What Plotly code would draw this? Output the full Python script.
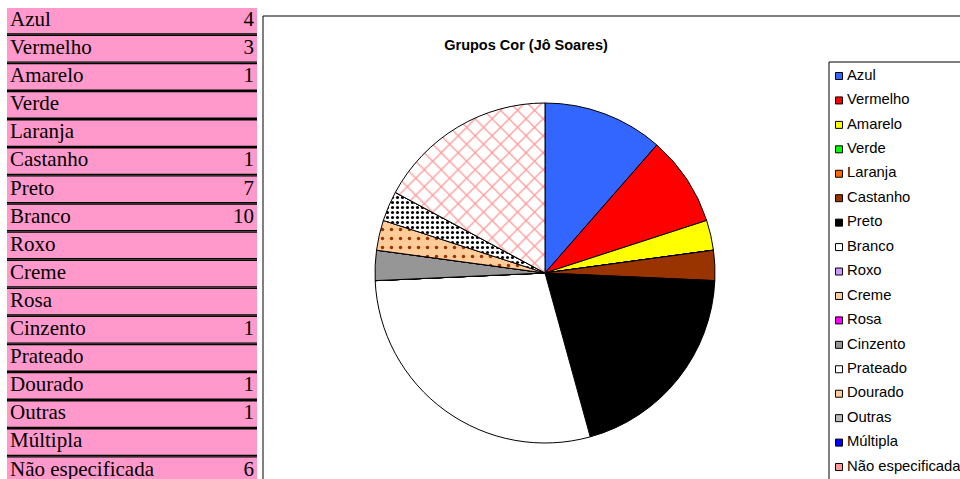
import plotly.graph_objects as go

# ---------------- data ----------------
categories = ["Azul", "Vermelho", "Amarelo", "Verde", "Laranja", "Castanho", "Preto",
              "Branco", "Roxo", "Creme", "Rosa", "Cinzento", "Prateado", "Dourado",
              "Outras", "Múltipla", "Não especificada"]
counts = [4, 3, 1, None, None, 1, 7, 10, None, None, None, 1, None, 1, 1, None, 6]
slice_colors = ["#3366FF", "#FF0000", "#FFFF00", "#00FF00", "#FF6600", "#993300", "#000000",
                "#FFFFFF", "#CC99FF", "#FFCC99", "#FF00FF", "#969696", "#FFFFFF", "#FFCC99",
                "#FFFFFF", "#0000FF", "#FFFFFF"]
legend_colors = ["#3366FF", "#FF0000", "#FFFF00", "#00FF00", "#FF6600", "#993300", "#000000",
                 "#FFFFFF", "#CC99FF", "#FFCC99", "#FF00FF", "#969696", "#FFFFFF", "#FFCC99",
                 "#BBBBBB", "#0000FF", "#FF9999"]
pattern_shapes = ["", "", "", "", "", "", "", "", "", "", "", "", "", ".", ".", "", "x"]
pattern_fg = ["black"] * 13 + ["#993300", "#000000", "black", "#FF9999"]
chart_title = "Grupos Cor (Jô Soares)"

W, H = 960, 479
n = len(categories)
rows = list(range(n))
pie_values = [v if v else 0 for v in counts]
value_text = [str(v) if v else "" for v in counts]

fig = go.Figure()

# ---------------- table (left) ----------------
fig.add_trace(go.Bar(orientation="h", y=rows, x=[250] * n, width=1.0,
                     marker=dict(color="black", line=dict(width=0)),
                     xaxis="x", yaxis="y", hoverinfo="skip"))
fig.add_trace(go.Bar(orientation="h", y=rows, x=[250] * n, width=0.9,
                     marker=dict(color="#FF99CC", line=dict(width=0)),
                     xaxis="x", yaxis="y", hoverinfo="skip"))
fig.add_trace(go.Scatter(x=[3] * n, y=rows, mode="text", text=categories,
                         textposition="middle right",
                         textfont=dict(family="Liberation Serif", size=21, color="black"),
                         xaxis="x", yaxis="y", hoverinfo="skip"))
fig.add_trace(go.Scatter(x=[247] * n, y=rows, mode="text", text=value_text,
                         textposition="middle left",
                         textfont=dict(family="Liberation Serif", size=21, color="black"),
                         xaxis="x", yaxis="y", hoverinfo="skip"))

# ---------------- pie ----------------
fig.add_trace(go.Pie(
    labels=categories, values=pie_values, sort=False, direction="clockwise", rotation=0,
    textinfo="none", showlegend=False,
    marker=dict(colors=slice_colors, line=dict(color="black", width=1),
                pattern=dict(shape=pattern_shapes, fgcolor=pattern_fg,
                             bgcolor=slice_colors, size=[8] * 13 + [9, 5, 8, 12],
                             solidity=[0.3] * 13 + [0.12, 0.3, 0.3, 0.2])),
    domain=dict(x=[375 / W, 715 / W], y=[1 - 443 / H, 1 - 103 / H]),
))

# ---------------- custom legend ----------------
leg_y = [14 + 24.44 * i for i in rows]
fig.add_trace(go.Scatter(x=[10] * n, y=leg_y, mode="markers",
                         marker=dict(symbol="square", size=7, color=legend_colors,
                                     line=dict(color="black", width=1)),
                         xaxis="x2", yaxis="y2", hoverinfo="skip"))
fig.add_trace(go.Scatter(x=[18] * n, y=leg_y, mode="text", text=categories,
                         textposition="middle right",
                         textfont=dict(family="Liberation Sans, Arial", size=14.8, color="black"),
                         xaxis="x2", yaxis="y2", hoverinfo="skip", cliponaxis=False))

ax_off = dict(visible=False, fixedrange=True)
fig.update_layout(
    width=W, height=H, margin=dict(l=0, r=0, t=0, b=0, autoexpand=False),
    paper_bgcolor="white", plot_bgcolor="white", showlegend=False, barmode="overlay",
    xaxis=dict(domain=[7 / W, 257 / W], range=[0, 250], **ax_off),
    yaxis=dict(domain=[0, 1 - 8 / H], range=[-0.45 + 471 / 28.1, -0.45], **ax_off),
    xaxis2=dict(domain=[829 / W, 1], range=[0, 131], **ax_off),
    yaxis2=dict(domain=[0, 1 - 62 / H], range=[417, 0], **ax_off),
    title=dict(text=chart_title, x=526 / W, xanchor="center", y=1 - 45 / H, yanchor="middle",
               font=dict(family="Liberation Sans, Arial", size=14.5, color="black", weight="bold")),
    shapes=[
        dict(type="rect", xref="paper", yref="paper", x0=263 / W, x1=1.02,
             y0=-0.02, y1=1 - 16 / H, line=dict(color="black", width=1), layer="below"),
        dict(type="rect", xref="paper", yref="paper", x0=829 / W, x1=1.02,
             y0=-0.02, y1=1 - 62 / H, line=dict(color="black", width=1), layer="below"),
    ],
)

fig.write_html("out.html", config={"displayModeBar": False},
               post_script="document.body.style.margin='0';")
